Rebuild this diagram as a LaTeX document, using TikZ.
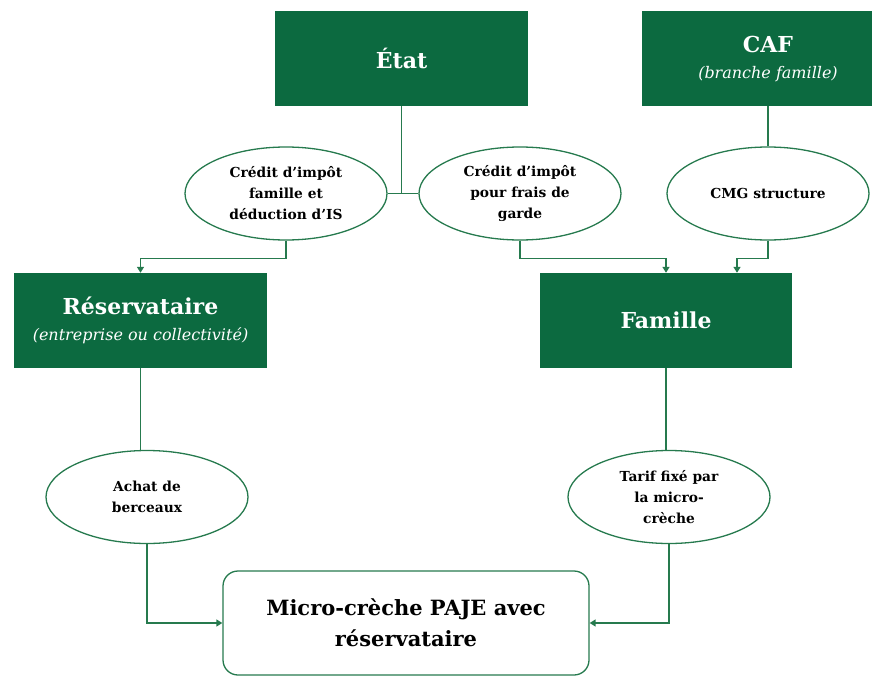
\documentclass[tikz,border=0pt]{standalone}
\usepackage{fontspec}
\setmainfont{DejaVu Serif}
\usetikzlibrary{shapes.geometric,arrows.meta}
\definecolor{boxgreen}{RGB}{12,106,64}
\definecolor{linegreen}{RGB}{38,122,78}

\tikzset{
  org/.style={rectangle,fill=boxgreen,text=white,inner sep=0pt,align=center,
    minimum width=253pt,minimum height=95pt,
    font=\bfseries\fontsize{22}{26}\selectfont},
  aid/.style={ellipse,draw=linegreen,line width=1.3pt,fill=white,inner sep=0pt,
    align=center,minimum width=202pt,minimum height=93pt,
    font=\bfseries\fontsize{13.8}{21}\selectfont},
  final/.style={rectangle,rounded corners=15pt,draw=linegreen,line width=1.3pt,
    align=center,minimum width=366pt,minimum height=104pt,
    font=\bfseries\fontsize{21}{31}\selectfont},
  link/.style={draw=linegreen,line width=1.4pt},
  flow/.style={link,-{Triangle[width=7pt,length=6pt]}}
}
\newcommand{\subtitle}[1]{{\mdseries\itshape\fontsize{16}{18}\selectfont #1}}

\begin{document}
\begin{tikzpicture}[x=1pt,y=-1pt]
  \useasboundingbox (0,0) rectangle (872,677);

  \node [org] (etat) at (401.5,58.5) {État};
  \node [org] (caf) at (768,58.5) {CAF\\\subtitle{(branche famille)}};
  \node [org] (res) at (140.5,320.5) {Réservataire\\\subtitle{(entreprise ou collectivité)}};
  \node [org,minimum width=252pt] (fam) at (666,320.5) {Famille};

  \node [aid] (cif) at (286,193.5) {Crédit d’impôt\\famille et\\déduction d’IS};
  \node [aid] (cfg) at (520,193.5) {Crédit d’impôt\\pour frais de\\garde};
  \node [aid] (cmg) at (768,193.5) {CMG structure};
  \node [aid] (ach) at (147,497) {Achat de\\berceaux};
  \node [aid] (tar) at (669,497) {Tarif fixé par\\la micro-\\crèche};

  \node [final] (fin) at (406,623) {Micro-crèche PAJE avec\\réservataire};

  % liens simples
  \draw [link] (etat.south) -- (etat.south |- cif.east);
  \draw [link] (cif.east) -- (cfg.west);
  \draw [link] (cmg.north) -- (cmg.north |- caf.south);
  \draw [link] (res.south) -- (res.south |- ach.north);
  \draw [link] (fam.south) -- (fam.south |- tar.north);

  % flux
  \draw [flow] (cif.south) -- ++(0,18) -| (res.north);
  \draw [flow] (cfg.south) -- ++(0,18) -| (fam.north);
  \draw [flow] (cmg.south) -- ++(0,18) -| ([xshift=71pt]fam.north);
  \draw [flow] (ach.south) |- (fin.west);
  \draw [flow] (tar.south) |- (fin.east);
\end{tikzpicture}
\end{document}
